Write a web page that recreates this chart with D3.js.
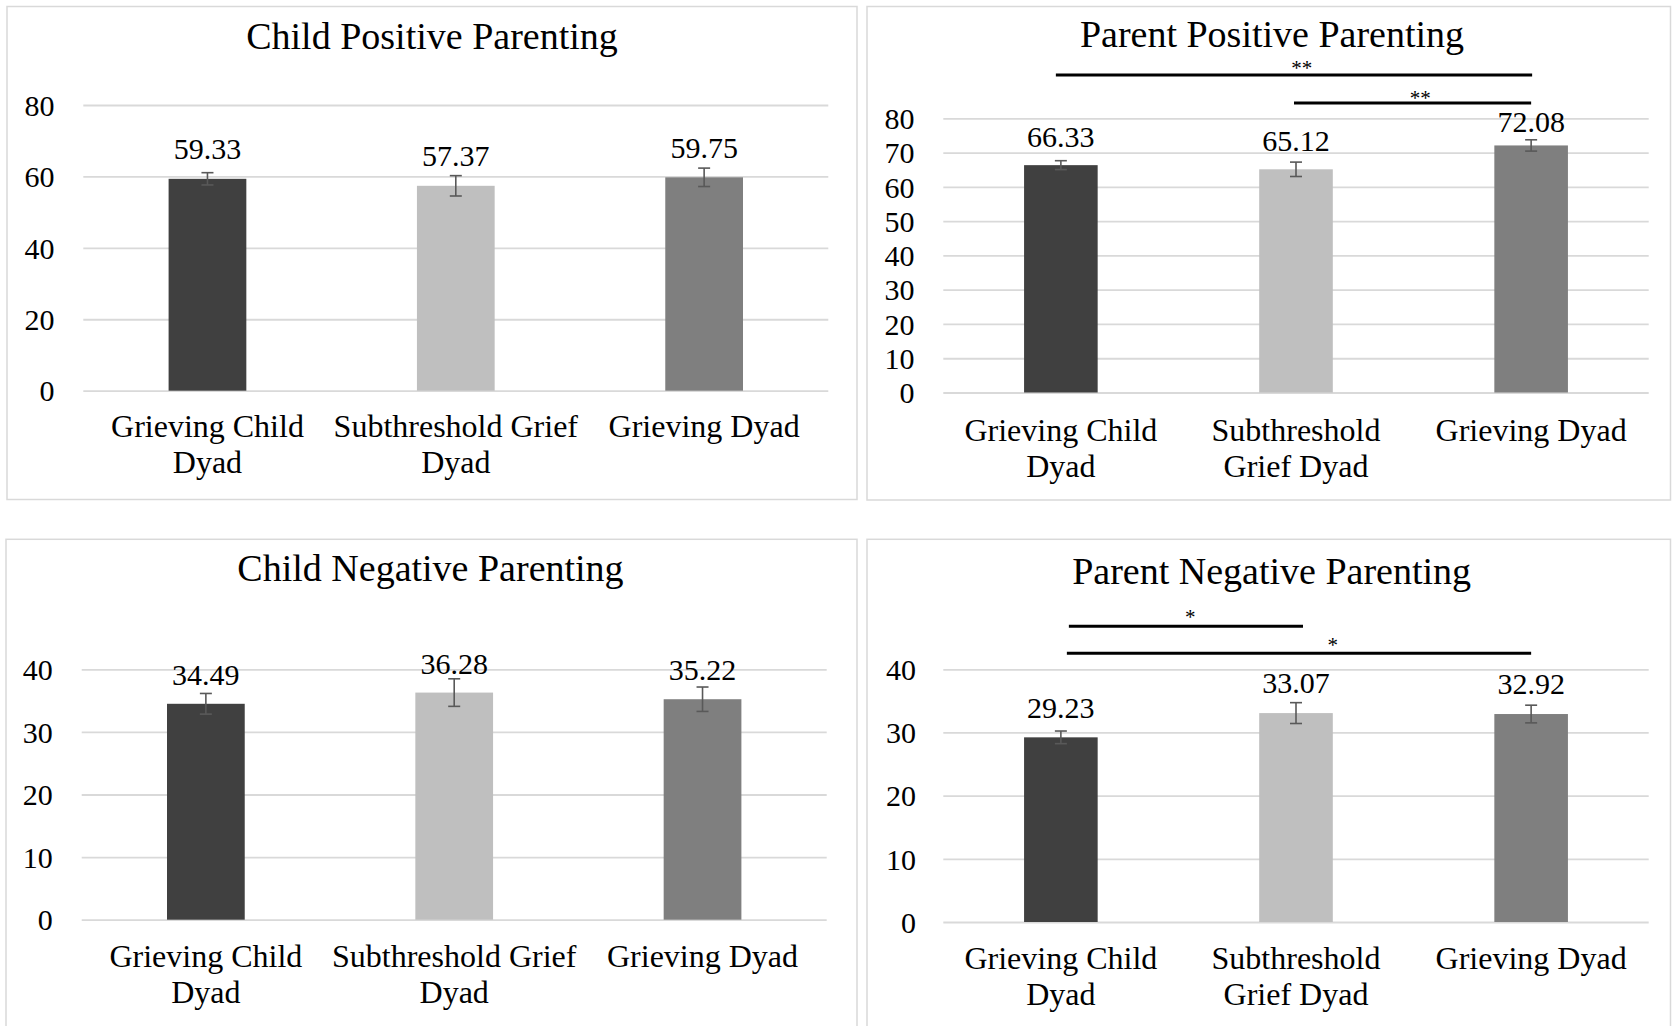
<!DOCTYPE html>
<html>
<head>
<meta charset="utf-8">
<script src="https://cdn.jsdelivr.net/npm/d3@7"></script>
<style>
  html, body { margin: 0; padding: 0; background: #fff; }
  svg { display: block; font-family: "Liberation Serif", "Times New Roman", serif; }
</style>
</head>
<body>
<svg id="chart" width="1677" height="1026"></svg>
<script>
// Group names and their wrapped axis labels
const categories = ["Grieving Child Dyad", "Subthreshold Grief Dyad", "Grieving Dyad"];
const categoryLinesWide = [["Grieving Child", "Dyad"], ["Subthreshold Grief", "Dyad"], ["Grieving Dyad"]];
const categoryLinesNarrow = [["Grieving Child", "Dyad"], ["Subthreshold", "Grief Dyad"], ["Grieving Dyad"]];

// Means and standard errors per group
const childPositive = [59.33, 57.37, 59.75];
const childPositiveSE = [1.72, 2.85, 2.58];
const parentPositive = [66.33, 65.12, 72.08];
const parentPositiveSE = [1.3, 2.1, 1.65];
const childNegative = [34.49, 36.28, 35.22];
const childNegativeSE = [1.65, 2.2, 1.95];
const parentNegative = [29.23, 33.07, 32.92];
const parentNegativeSE = [1.0, 1.65, 1.4];

// Axis ticks
const childPositiveTicks = [0, 20, 40, 60, 80];
const parentPositiveTicks = [0, 10, 20, 30, 40, 50, 60, 70, 80];
const negativeTicks = [0, 10, 20, 30, 40];

// Pairwise significance brackets
const parentPositiveSig = [{ from: 0, to: 2, label: "**" }, { from: 1, to: 2, label: "**" }];
const parentNegativeSig = [{ from: 0, to: 1, label: "*" }, { from: 0, to: 2, label: "*" }];

const barColors = ["#404040", "#bfbfbf", "#7f7f7f"];

const panels = [
  {
    title: "Child Positive Parenting", values: childPositive, se: childPositiveSE, ticks: childPositiveTicks,
    lines: categoryLinesWide, sig: [],
    box: [7, 6.5, 850, 493], plot: { left: 83.3, right: 828.3, zeroY: 390.7, maxY: 105 },
    titlePos: [432, 48.5], tickRight: 54.5, catBase: 436.7, catLine: 36.6, lift: [19.5, 19.5, 19.5]
  },
  {
    title: "Parent Positive Parenting", values: parentPositive, se: parentPositiveSE, ticks: parentPositiveTicks,
    lines: categoryLinesNarrow, sig: parentPositiveSig,
    sigLineY: [75, 103], sigStarY: [65, 95], sigStarT: [0.512, 0.528], sigInset: [[-5, 1], [-2, 0]],
    box: [867, 6.5, 803.5, 493.5], plot: { left: 943.3, right: 1648.7, zeroY: 392.5, maxY: 118.3 },
    titlePos: [1272, 46.5], tickRight: 914.5, catBase: 440.7, catLine: 36, lift: [18.5, 18.5, 13.3]
  },
  {
    title: "Child Negative Parenting", values: childNegative, se: childNegativeSE, ticks: negativeTicks,
    lines: categoryLinesWide, sig: [],
    box: [6, 539.3, 851, 500], plot: { left: 81.7, right: 826.7, zeroY: 919.7, maxY: 669.3 },
    titlePos: [430.5, 580.7], tickRight: 52.7, catBase: 966.7, catLine: 36.6, lift: [19, 19, 19]
  },
  {
    title: "Parent Negative Parenting", values: parentNegative, se: parentNegativeSE, ticks: negativeTicks,
    lines: categoryLinesNarrow, sig: parentNegativeSig,
    sigLineY: [626.3, 653.3], sigStarY: [614, 641.7], sigStarT: [0.55, 0.578], sigInset: [[8, 7], [6, 0]],
    box: [867, 539.3, 803.5, 500], plot: { left: 943.3, right: 1648.7, zeroY: 922, maxY: 669.3 },
    titlePos: [1271.6, 584], tickRight: 916, catBase: 969.3, catLine: 35.7, lift: [19.7, 19.7, 19.7]
  }
];

const svg = d3.select("#chart");

panels.forEach(p => {
  const g = svg.append("g");
  const [bx, by, bw, bh] = p.box;

  // Chart frame
  g.append("rect").attr("x", bx).attr("y", by).attr("width", bw).attr("height", bh)
    .attr("fill", "#fff").attr("stroke", "#d9d9d9").attr("stroke-width", 1.5);

  const maxTick = d3.max(p.ticks);
  const y = d3.scaleLinear().domain([0, maxTick]).range([p.plot.zeroY, p.plot.maxY]);
  const x = d3.scaleBand().domain(categories).range([p.plot.left, p.plot.right])
    .paddingInner(0.687).paddingOuter(0.3435);

  // Gridlines and value axis labels
  const yAxis = d3.axisLeft(y).tickValues(p.ticks).tickSize(-(p.plot.right - p.plot.left)).tickPadding(0).tickFormat(d3.format("d"));
  const ya = g.append("g").attr("transform", `translate(${p.plot.left},0)`).call(yAxis);
  ya.select(".domain").remove();
  ya.selectAll(".tick line").attr("stroke", "#d9d9d9").attr("stroke-width", 1.8);
  ya.selectAll(".tick text")
    .attr("x", p.tickRight - p.plot.left).attr("dy", "0.34em")
    .attr("font-size", 30).attr("font-family", "Liberation Serif, serif").attr("fill", "#000");

  // Title
  g.append("text").attr("x", p.titlePos[0]).attr("y", p.titlePos[1])
    .attr("text-anchor", "middle").attr("font-size", 38).attr("fill", "#000").text(p.title);

  // Bars
  g.selectAll("rect.bar").data(p.values).enter().append("rect").attr("class", "bar")
    .attr("x", (d, i) => x(categories[i]))
    .attr("width", x.bandwidth())
    .attr("y", d => y(d))
    .attr("height", d => y(0) - y(d))
    .attr("fill", (d, i) => barColors[i]);

  // Error bars
  const cx = i => x(categories[i]) + x.bandwidth() / 2;
  const eb = g.selectAll("g.err").data(p.values).enter().append("g").attr("class", "err")
    .attr("stroke", "#595959").attr("stroke-width", 1.6);
  eb.append("line").attr("x1", (d, i) => cx(i)).attr("x2", (d, i) => cx(i))
    .attr("y1", (d, i) => y(d + p.se[i])).attr("y2", (d, i) => y(d - p.se[i]));
  eb.append("line").attr("x1", (d, i) => cx(i) - 6).attr("x2", (d, i) => cx(i) + 6)
    .attr("y1", (d, i) => y(d + p.se[i])).attr("y2", (d, i) => y(d + p.se[i]));
  eb.append("line").attr("x1", (d, i) => cx(i) - 6).attr("x2", (d, i) => cx(i) + 6)
    .attr("y1", (d, i) => y(d - p.se[i])).attr("y2", (d, i) => y(d - p.se[i]));

  // Value labels
  g.selectAll("text.val").data(p.values).enter().append("text").attr("class", "val")
    .attr("x", (d, i) => cx(i)).attr("y", (d, i) => y(d) - p.lift[i])
    .attr("text-anchor", "middle").attr("font-size", 30).attr("fill", "#000")
    .text(d => d.toFixed(2));

  // Category labels
  p.lines.forEach((lines, i) => {
    const t = g.append("text").attr("text-anchor", "middle").attr("font-size", 32).attr("fill", "#000");
    lines.forEach((ln, k) => {
      t.append("tspan").attr("x", cx(i)).attr("y", p.catBase + k * p.catLine).text(ln);
    });
  });

  // Significance brackets
  p.sig.forEach((s, k) => {
    const x1 = cx(s.from) + p.sigInset[k][0], x2 = cx(s.to) + p.sigInset[k][1];
    g.append("line").attr("x1", x1).attr("x2", x2)
      .attr("y1", p.sigLineY[k]).attr("y2", p.sigLineY[k])
      .attr("stroke", "#000").attr("stroke-width", 3);
    g.append("text").attr("x", cx(s.from) + (cx(s.to) - cx(s.from)) * p.sigStarT[k]).attr("y", p.sigStarY[k] + 10)
      .attr("text-anchor", "middle").attr("font-size", 21).attr("fill", "#000").text(s.label);
  });
});
</script>
</body>
</html>
